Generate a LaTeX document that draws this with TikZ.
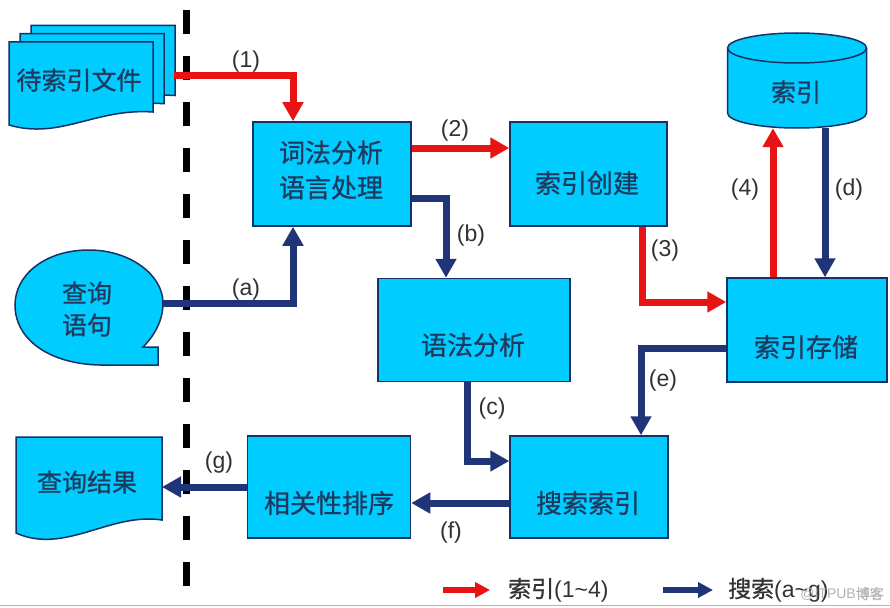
\documentclass[tikz,border=0pt]{standalone}
\usepackage{fontspec}
\setmainfont{Liberation Sans}
\newfontfamily\cjk[FakeBold=0.8]{Noto Sans CJK SC}
\usetikzlibrary{arrows.meta,calc}
\definecolor{boxfill}{RGB}{0,204,255}
\definecolor{boxline}{RGB}{20,50,100}
\definecolor{idxred}{RGB}{232,20,20}
\definecolor{srchblue}{RGB}{32,52,120}
\definecolor{txtc}{RGB}{30,58,95}
\definecolor{lblc}{RGB}{50,50,50}
\begin{document}
\begin{tikzpicture}[x=1pt,y=-1pt,
  procbox/.style={draw=boxline, line width=1.5pt, fill=boxfill, inner sep=0pt},
  boxtext/.style={font=\cjk\fontsize{26}{35}\selectfont, text=txtc, align=center, inner sep=0pt},
  shapeline/.style={draw=boxline, line width=1.5pt, fill=boxfill},
  redarr/.style={draw=idxred, line width=7pt, -{Triangle[length=19pt,width=20pt]}},
  bluearr/.style={draw=srchblue, line width=7pt, -{Triangle[length=19pt,width=20pt]}},
  legred/.style={draw=idxred, line width=6pt, -{Triangle[length=15pt,width=15pt]}},
  legblue/.style={draw=srchblue, line width=6pt, -{Triangle[length=15pt,width=15pt]}},
  lbl/.style={font=\fontsize{23}{26}\selectfont, text=lblc, inner sep=0pt},
  legtext/.style={font=\fontsize{23}{26}\selectfont, text=black!80, inner sep=0pt, anchor=west}]
\useasboundingbox (0,0) rectangle (890,607);
\fill[white] (0,0) rectangle (890,607);

% dashed separator
\coordinate (dtop) at (186,10);
\coordinate (dbot) at (186,588);
\draw[black, line width=7pt, dash pattern=on 24pt off 22pt] (dtop) -- (dbot);

% bottom rule
\draw[gray!60, line width=1.5pt] (0,605.5) -- (890,605.5);

% document stack
\foreach \dx/\dy in {22/-16.5, 11/-8.3, 0/0} {
  \draw[shapeline, shift={(\dx,\dy)}] (9,42) -- (153,42) -- (153,112)
    .. controls (95,108) and (60,140) .. (9,125) -- cycle;
}
\node[boxtext, font=\cjk\fontsize{25}{30}\selectfont] (srcdoc) at (79,80) {待索引文件};
\coordinate (docout) at (174,76);

% query balloon
\draw[shapeline] (163,303) .. controls (163,275) and (130,250) .. (89,250)
  .. controls (45,250) and (15,275) .. (15,305)
  .. controls (15,340) and (50,364) .. (100,365)
  -- (158,365) -- (158,347) -- (143,347)
  .. controls (155,335) and (163,320) .. (163,303) -- cycle;
\node[boxtext, font=\cjk\fontsize{25}{32}\selectfont] (query) at (87,309) {查询\\语句};
\coordinate (qout) at (163,303);

% result document
\draw[shapeline] (16,437) -- (162,437) -- (162,520)
  .. controls (110,512) and (65,555) .. (16,533) -- cycle;
\node[boxtext, font=\cjk\fontsize{25}{30}\selectfont] (result) at (87,482) {查询结果};
\coordinate (resin) at (162,487);

% cylinder
\fill[boxfill] (797,113) ellipse [x radius=69.5pt, y radius=15pt];
\fill[boxfill] (727.5,48) rectangle (866.5,113);
\draw[boxline, line width=1.5pt] (727.5,48) -- (727.5,113)
  arc[start angle=180, end angle=360, x radius=69.5pt, y radius=15pt] -- (866.5,48);
\draw[shapeline] (797,48) ellipse [x radius=69.5pt, y radius=15pt];
\node[inner sep=0pt, minimum width=139pt, minimum height=95pt] (idx) at (797,80.5) {};
\node[boxtext, font=\cjk\fontsize{25}{30}\selectfont] (idxtext) at (796,92) {索引};

% process boxes
\node[procbox, minimum width=158pt, minimum height=104pt] (lex) at (332,174) {};
\node[boxtext] (lextext) at (331,170) {词法分析\\语言处理};
\node[procbox, minimum width=157pt, minimum height=104pt] (build) at (588.5,174) {};
\node[boxtext] (buildtext) at (587,183) {索引创建};
\node[procbox, minimum width=192pt, minimum height=103pt] (syn) at (474,330) {};
\node[boxtext] (syntext) at (473,345) {语法分析};
\node[procbox, minimum width=160pt, minimum height=104pt] (store) at (807,330) {};
\node[boxtext] (storetext) at (806,347) {索引存储};
\node[procbox, minimum width=158pt, minimum height=102pt] (search) at (589,487) {};
\node[boxtext] (searchtext) at (588,503) {搜索索引};
\node[procbox, minimum width=163pt, minimum height=102pt] (rank) at (329,487) {};
\node[boxtext] (ranktext) at (329,503) {相关性排序};

% index flow (red)
\draw[redarr] (docout) -| ([xshift=-39pt]lex.north);
\draw[redarr] ([yshift=26pt]lex.east) -- ([yshift=26pt]build.west);
\draw[redarr] ([xshift=53.5pt]build.south) |- ([yshift=28pt]store.west);
\draw[redarr] ([xshift=-34pt]store.north) -- ([xshift=-34pt]store.north |- idx.south);

% search flow (blue)
\draw[bluearr] (qout) -| ([xshift=-39pt]lex.south);
\draw[bluearr] ([yshift=-24pt]lex.east) -| ([xshift=-28pt]syn.north);
\draw[bluearr] ([xshift=-7pt]syn.south) |- ([yshift=26pt]search.west);
\draw[bluearr] ([xshift=28pt]idx.south) -- ([xshift=28pt]idx.south |- store.north);
\draw[bluearr] ([yshift=-18pt]store.west) -| ([xshift=52pt]search.north);
\draw[bluearr] ([yshift=-16pt]search.west) -- ([yshift=-16pt]rank.east);
\draw[bluearr] (rank.west) -- (resin);

% labels
\node[lbl] (l1) at (246,62) {(1)};
\node[lbl] (l2) at (455,131) {(2)};
\node[lbl] (l3) at (665,251) {(3)};
\node[lbl] (l4) at (745,190) {(4)};
\node[lbl] (la) at (246,290) {(a)};
\node[lbl] (lb) at (471,236) {(b)};
\node[lbl] (lc) at (492,409) {(c)};
\node[lbl] (ld) at (849,190) {(d)};
\node[lbl] (le) at (663,381) {(e)};
\node[lbl] (lf) at (451,533) {(f)};
\node[lbl] (lg) at (219,463) {(g)};

% legend
\coordinate (lr1) at (443,590);
\coordinate (lr2) at (490,590);
\draw[legred] (lr1) -- (lr2);
\node[legtext] (legidx) at (508,590) {{\cjk 索引}(1\textasciitilde4)};
\coordinate (lb1) at (663,590);
\coordinate (lb2) at (713,590);
\draw[legblue] (lb1) -- (lb2);
\node[legtext] (legsrch) at (728,590) {{\cjk 搜索}(a\textasciitilde g)};
\node[font=\fontsize{14}{16}\selectfont, text=gray!60, inner sep=0pt, anchor=east] (wm) at (884,594) {@ITPUB{\cjk 博客}};
\end{tikzpicture}
\end{document}
